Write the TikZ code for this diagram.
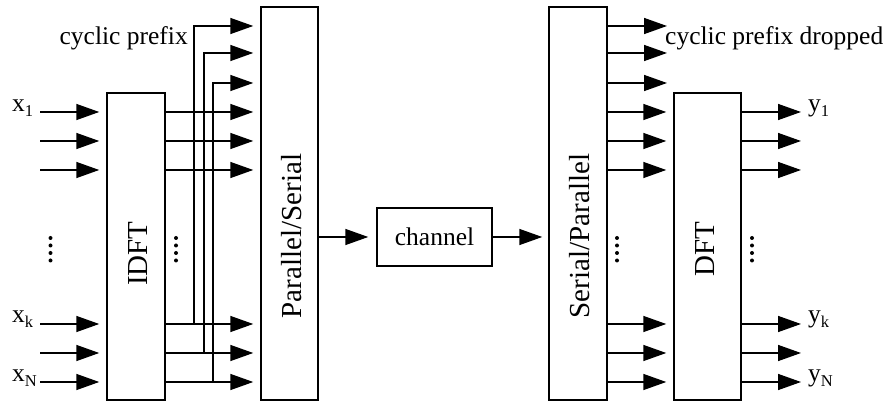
\documentclass[tikz,border=0pt]{standalone}
\usepackage{fontspec}
\setmainfont{Liberation Serif}
\usetikzlibrary{arrows.meta}
\begin{document}
\begin{tikzpicture}[x=1pt,y=-1pt,
  box/.style={draw, line width=1.5pt, inner sep=0pt},
  arr/.style={line width=1.5pt, -{Triangle[length=23pt,width=16pt]}},
  lbl/.style={font=\fontsize{25.5}{30}\selectfont, inner sep=0pt},
  blbl/.style={font=\fontsize{29}{34}\selectfont, rotate=90, inner sep=0pt}]
\useasboundingbox (0,0) rectangle (887,403);
\newcommand{\sbs}[1]{\raisebox{-5pt}{\fontsize{16.5}{18}\selectfont #1}}
% boxes
\node[box, minimum width=58pt, minimum height=307pt] (idft) at (136,246.5) {};
\node[box, minimum width=57pt, minimum height=393pt] (ps) at (289.5,203.5) {};
\node[box, lbl, inner sep=0pt, minimum width=115pt, minimum height=58pt] (ch) at (434.5,237) {channel};
\node[box, minimum width=58pt, minimum height=393pt] (sp) at (578,203.5) {};
\node[box, minimum width=67pt, minimum height=307pt] (dft) at (707.5,246.5) {};
% box labels
\node[blbl] (idftl) at (138,253.5) {IDFT};
\node[blbl] (psl) at (292,236) {Parallel/Serial};
\node[blbl] (spl) at (580,236) {Serial/Parallel};
\node[blbl] (dftl) at (705,249.5) {DFT};
% rows
\coordinate (t1) at (0,26);
\coordinate (t2) at (0,53);
\coordinate (t3) at (0,83);
\coordinate (r1) at (0,112);
\coordinate (r2) at (0,141);
\coordinate (r3) at (0,170);
\coordinate (r4) at (0,324);
\coordinate (r5) at (0,353);
\coordinate (r6) at (0,382);
% inputs, IDFT -> P/S, S/P -> DFT, outputs
\foreach \i in {1,...,6}{
  \coordinate (in\i) at (40,0 |- r\i);
  \draw[arr, shorten >=7pt] (in\i) -- (idft.west |- r\i);
  \draw[arr, shorten >=7pt] (idft.east |- r\i) -- (ps.west |- r\i);
  \draw[arr, shorten >=7pt] (sp.east |- r\i) -- (dft.west |- r\i);
  \coordinate (out\i) at (801,0 |- r\i);
  \draw[arr] (dft.east |- r\i) -- (out\i);
}
% cyclic prefix taps
\coordinate (tap1) at (194,324);
\coordinate (tap2) at (204,353);
\coordinate (tap3) at (213,382);
\foreach \i in {1,2,3}{
  \draw[arr, shorten >=7pt] (tap\i) |- (ps.west |- t\i);
  \coordinate (drop\i) at (667,0 |- t\i);
  \draw[arr] (sp.east |- t\i) -- (drop\i);
}
% channel path
\draw[arr, shorten >=8pt] (ps.east |- ch) -- (ch.west);
\draw[arr, shorten >=6pt] (ch.east) -- (sp.west |- ch);
% dots
\foreach \xx in {50.5,176,617,752}{
  \foreach \yy in {238,245.5,253,260.5}{
    \fill (\xx,\yy) circle (2pt);
  }
}
% labels
\node[lbl, anchor=base west] (x1) at (12,112) {x\sbs{1}};
\node[lbl, anchor=base west] (xk) at (12,323) {x\sbs{k}};
\node[lbl, anchor=base west] (xn) at (12,382) {x\sbs{N}};
\node[lbl, anchor=base west] (y1) at (808,112) {y\sbs{1}};
\node[lbl, anchor=base west] (yk) at (808,323) {y\sbs{k}};
\node[lbl, anchor=base west] (yn) at (808,382) {y\sbs{N}};
\node[lbl, anchor=base east] (cp) at (188,45) {cyclic prefix};
\node[lbl, anchor=base west] (cpd) at (665,45) {cyclic prefix dropped};
\end{tikzpicture}
\end{document}
